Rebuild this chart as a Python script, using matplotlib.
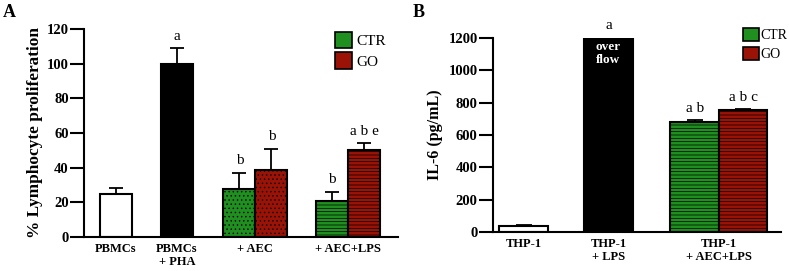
import matplotlib.pyplot as plt
from matplotlib.patches import Patch

plt.rcParams['font.family'] = ['Liberation Serif', 'DejaVu Serif']
plt.rcParams['hatch.linewidth'] = 0.5

GREEN = '#1f8f1f'
RED = '#9b1206'

# panel A - lymphocyte proliferation
a_labels = ['PBMCs', 'PBMCs\n+ PHA', '+ AEC', '+ AEC+LPS']
a_values = [25, 100, 27.5, 38.5, 21, 50]
a_errors = [3.5, 9, 9.5, 12.5, 5, 4]
a_letters = ['', 'a', 'b', 'b', 'b', 'a b e']

# panel B - IL-6
b_labels = ['THP-1', 'THP-1\n+ LPS', 'THP-1\n+ AEC+LPS']
b_values = [40, 1200, 680, 752]
b_errors = [5, 0, 10, 8]
b_letters = ['', 'a', 'a b', 'a b c']

fig = plt.figure(figsize=(7.89, 2.71), dpi=100)
axA = fig.add_axes([84 / 789, 1 - 237 / 271, 314 / 789, 208 / 271])
axB = fig.add_axes([493 / 789, 1 - 232 / 271, 288 / 789, 194 / 271])


def style(ax):
    for s in ['top', 'right']:
        ax.spines[s].set_visible(False)
    for s in ['left', 'bottom']:
        ax.spines[s].set_linewidth(1.5)
    ax.tick_params(axis='y', length=10, width=1.5, labelsize=10.5, pad=1)
    ax.tick_params(axis='x', length=0, labelsize=9, pad=4)
    for t in ax.get_yticklabels():
        t.set_fontweight('bold')
    for t in ax.get_xticklabels():
        t.set_fontweight('bold')


# --- A ---
posA = [1.0, 2.9, 4.85, 5.85, 7.75, 8.75]
facesA = ['white', 'black', GREEN, RED, GREEN, RED]
hatchA = [None, None, '....', '....', '-----', '-----']
for x, v, e, fc, h, lt in zip(posA, a_values, a_errors, facesA, hatchA, a_letters):
    axA.bar(x, v, width=1.0, color=fc, edgecolor='black', linewidth=1.5, hatch=h, zorder=2)
    axA.errorbar(x, v, yerr=[[0], [e]], fmt='none', ecolor='black', elinewidth=1.3,
                 capsize=4.7, capthick=1.3, zorder=1)
    if lt:
        axA.annotate(lt, (x, v + e), xytext=(0, 4), textcoords='offset points',
                     ha='center', va='bottom', fontsize=11)
axA.set_xlim(0, 9.8)
axA.set_ylim(0, 120)
axA.set_yticks(range(0, 121, 20))
axA.set_xticks([1.0, 2.9, 5.35, 8.25])
axA.set_xticklabels(a_labels)
axA.set_ylabel('% Lymphocyte proliferation', fontsize=12.4, fontweight='bold', labelpad=3)
style(axA)

# --- B ---
posB = [0.63, 2.38, 4.16, 5.16]
facesB = ['white', 'black', GREEN, RED]
hatchB = [None, None, '-----', '-----']
for x, v, e, fc, h, lt in zip(posB, b_values, b_errors, facesB, hatchB, b_letters):
    axB.bar(x, v, width=1.0, color=fc, edgecolor='black', linewidth=1.5, hatch=h, zorder=2)
    if e:
        axB.errorbar(x, v, yerr=[[0], [e]], fmt='none', ecolor='black', elinewidth=1.3,
                     capsize=6, capthick=1.3, zorder=1)
    if lt:
        axB.annotate(lt, (x, v + e), xytext=(0, 4), textcoords='offset points',
                     ha='center', va='bottom', fontsize=11)
axB.text(posB[1], b_values[1] * 0.985, 'over\nflow', color='white', fontsize=9.5,
         fontweight='bold', ha='center', va='top', linespacing=1.1, zorder=3)
axB.set_xlim(0, 5.94)
axB.set_ylim(0, 1200)
axB.set_yticks(range(0, 1201, 200))
axB.set_xticks([0.63, 2.38, 4.66])
axB.set_xticklabels(b_labels)
axB.set_ylabel('IL-6 (pg/mL)', fontsize=11.5, fontweight='bold', labelpad=4)
style(axB)

handles = [Patch(facecolor=GREEN, edgecolor='black', linewidth=1.2, label='CTR'),
           Patch(facecolor=RED, edgecolor='black', linewidth=1.2, label='GO')]
fig.legend(handles=handles, loc='upper left', bbox_to_anchor=(324 / 789, 1 - 21 / 271),
           frameon=False, fontsize=11, handlelength=1.15, handleheight=1.25,
           handletextpad=0.3, labelspacing=0.3, borderpad=0.2)
fig.legend(handles=handles, loc='upper left', bbox_to_anchor=(733 / 789, 1 - 18 / 271),
           frameon=False, fontsize=10, handlelength=1.15, handleheight=1.1,
           handletextpad=0.1, labelspacing=0.35, borderpad=0.2)

fig.text(3 / 789, 1 - 4 / 271, 'A', fontsize=13, fontweight='bold', va='top', ha='left')
fig.text(413 / 789, 1 - 4 / 271, 'B', fontsize=13, fontweight='bold', va='top', ha='left')

fig.savefig('out.png', dpi=100)
